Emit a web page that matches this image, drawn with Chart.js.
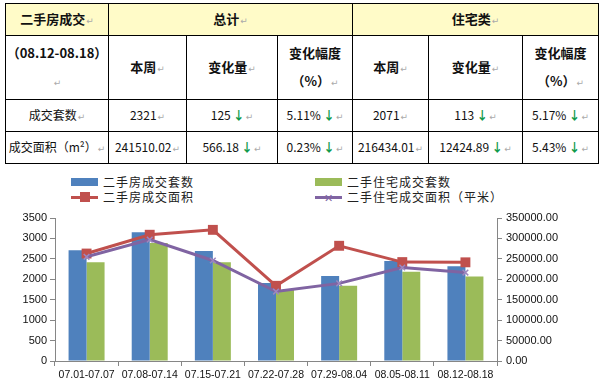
<!DOCTYPE html>
<html><head><meta charset="utf-8">
<script src="https://cdn.jsdelivr.net/npm/chart.js@4"></script>
<style>
html,body{margin:0;padding:0;background:#fff;}
body{width:601px;height:383px;position:relative;overflow:hidden;font-family:"Noto Sans CJK SC","DejaVu Sans",sans-serif;}
.cell{position:absolute;box-sizing:border-box;border-left:1px solid #000;border-top:1px solid #000;display:flex;flex-direction:column;align-items:center;justify-content:center;font-size:12px;color:#111;text-align:center;line-height:28px;}
.hdr{background:#FFFBC8;font-weight:bold;font-size:13px;}
.b{font-weight:bold;font-size:13px;}
.pm{color:#aaa;font-size:9px;font-weight:normal;margin-left:1px;}
.ar{color:#0f9a4a;font-weight:bold;margin-left:2px;}
#frame{position:absolute;box-sizing:border-box;border-right:1px solid #000;border-bottom:1px solid #000;pointer-events:none;}
.lg{position:absolute;font-size:12px;letter-spacing:1px;color:#222;line-height:14px;white-space:nowrap;}
.box{position:absolute;}
#cv{position:absolute;left:0;top:205px;}
</style></head>
<body>
<div id="tbl"></div>
<div class="box" style="left:71px;top:178px;width:27px;height:8px;background:#4F81BD"></div>
<div class="lg" style="left:103px;top:175px">二手房成交套数</div>
<div class="box" style="left:71px;top:196px;width:27px;height:3px;background:#C0504D"></div>
<div class="box" style="left:80px;top:192px;width:10px;height:10px;background:#C0504D"></div>
<div class="lg" style="left:103px;top:190px">二手房成交面积</div>
<div class="box" style="left:315px;top:178px;width:27px;height:8px;background:#9BBB59"></div>
<div class="lg" style="left:347px;top:175px">二手住宅成交套数</div>
<div class="box" style="left:315px;top:196px;width:27px;height:3px;background:#8064A2"></div>
<div class="lg" style="left:324px;top:190px;font-size:11px;color:#8064A2;letter-spacing:0">✕</div>
<div class="lg" style="left:347px;top:190px">二手住宅成交面积（平米）</div>
<canvas id="cv" width="601" height="178"></canvas>
<script>
// ---- table data ----
const tableTitle = '二手房成交';
const groupTotal = '总计';
const groupResidential = '住宅类';
const periodLabel = '（08.12-08.18）';
const subHeaders = ['本周','变化量','变化幅度|（%）'];
const rowLabels = ['成交套数','成交面积（m²）'];
const totalThisWeek = ['2321','241510.02'];
const totalChange = ['125','566.18'];
const totalPct = ['5.11%','0.23%'];
const resThisWeek = ['2071','216434.01'];
const resChange = ['113','12424.89'];
const resPct = ['5.17%','5.43%'];

// ---- chart data ----
const categories = ['07.01-07.07','07.08-07.14','07.15-07.21','07.22-07.28','07.29-08.04','08.05-08.11','08.12-08.18'];
const allUnits = [2710, 3150, 2690, 1910, 2080, 2446, 2321];
const resUnits = [2420, 2890, 2420, 1740, 1840, 2184, 2071];
const allArea = [263000, 309000, 321000, 184000, 282000, 242076.20, 241510.02];
const resArea = [255000, 297000, 246000, 170000, 190000, 228858.90, 216434.01];
const leftTicks = [0,500,1000,1500,2000,2500,3000,3500];
const rightTicks = [0,50000,100000,150000,200000,250000,300000,350000];

// ---- build table ----
const colX = [5,108,186,277,352,428,522,598];
const rowY = [3,35,99,131,163];
const tbl = document.getElementById('tbl');
function cell(c0,c1,r,html,cls){
  const d=document.createElement('div');
  d.className='cell '+(cls||'');
  d.style.left=colX[c0]+'px'; d.style.width=(colX[c1]-colX[c0])+'px';
  d.style.top=rowY[r]+'px'; d.style.height=(rowY[r+1]-rowY[r])+'px';
  d.innerHTML=html; tbl.appendChild(d);
}
const pm='<span class="pm">↵</span>';
const ar='<span class="ar">↓</span>';
cell(0,1,0,'<div>'+tableTitle+pm+'</div>','hdr');
cell(1,4,0,'<div>'+groupTotal+pm+'</div>','hdr');
cell(4,7,0,'<div>'+groupResidential+pm+'</div>','hdr');
cell(0,1,1,'<div>'+periodLabel+pm+'</div>','b');
[0,3].forEach(off=>{
  subHeaders.forEach((h,i)=>{
    const parts=h.split('|');
    const html=parts.map((p,j)=>'<div>'+p+(j===parts.length-1?pm:'')+'</div>').join('');
    cell(1+off+i,2+off+i,1,html,'b');
  });
});
rowLabels.forEach((lab,i)=>{
  const r=2+i;
  cell(0,1,r,'<div>'+lab+pm+'</div>');
  cell(1,2,r,'<div>'+totalThisWeek[i]+pm+'</div>');
  cell(2,3,r,'<div>'+totalChange[i]+ar+pm+'</div>');
  cell(3,4,r,'<div>'+totalPct[i]+ar+pm+'</div>');
  cell(4,5,r,'<div>'+resThisWeek[i]+pm+'</div>');
  cell(5,6,r,'<div>'+resChange[i]+ar+pm+'</div>');
  cell(6,7,r,'<div>'+resPct[i]+ar+pm+'</div>');
});
const fr=document.createElement('div'); fr.id='frame';
fr.style.left=colX[0]+'px'; fr.style.top=rowY[0]+'px';
fr.style.width=(colX[7]-colX[0]+1)+'px'; fr.style.height=(rowY[4]-rowY[0]+1)+'px';
tbl.appendChild(fr);

// ---- chart ----
const axisColor='#868686';
const tickFont={family:'"Liberation Sans", Arial, sans-serif', size:11};
new Chart(document.getElementById('cv'),{
  data:{
    labels:categories,
    datasets:[
      {type:'line',label:'二手住宅成交面积（平米）',data:resArea,yAxisID:'y1',borderColor:'#8064A2',backgroundColor:'#8064A2',borderWidth:3,pointStyle:'crossRot',pointRadius:4,pointBorderWidth:1.5,pointBorderColor:'#9d87bf',tension:0,order:0},
      {type:'line',label:'二手房成交面积',data:allArea,yAxisID:'y1',borderColor:'#C0504D',backgroundColor:'#C0504D',borderWidth:3,pointStyle:'rect',pointRadius:7,pointBorderWidth:0,tension:0,order:1},
      {type:'bar',label:'二手房成交套数',data:allUnits,yAxisID:'y',backgroundColor:'#4F81BD',categoryPercentage:0.57,barPercentage:1,order:2},
      {type:'bar',label:'二手住宅成交套数',data:resUnits,yAxisID:'y',backgroundColor:'#9BBB59',categoryPercentage:0.57,barPercentage:1,order:3}
    ]
  },
  options:{
    responsive:false,animation:false,
    layout:{padding:{top:13,left:0,right:0,bottom:0}},
    plugins:{legend:{display:false},tooltip:{enabled:false}},
    scales:{
      x:{
        grid:{display:true,drawOnChartArea:false,drawTicks:true,tickLength:5,color:axisColor,offset:true},
        border:{color:axisColor},
        ticks:{color:'#111',font:{family:tickFont.family,size:10.5},padding:3,maxRotation:0,autoSkip:false},
        afterFit:s=>{s.height=22;}
      },
      y:{
        position:'left',min:0,max:3500,
        afterBuildTicks:s=>{s.ticks=leftTicks.map(v=>({value:v}));},
        grid:{drawOnChartArea:false,tickLength:5,color:axisColor},
        border:{color:axisColor},
        ticks:{color:'#111',font:tickFont,padding:3,callback:v=>String(v)},
        afterFit:s=>{s.width=55;}
      },
      y1:{
        position:'right',min:0,max:350000,
        afterBuildTicks:s=>{s.ticks=rightTicks.map(v=>({value:v}));},
        grid:{drawOnChartArea:false,tickLength:5,color:axisColor},
        border:{color:axisColor},
        ticks:{color:'#111',font:tickFont,padding:4,callback:v=>Number(v).toFixed(2)},
        afterFit:s=>{s.width=104;}
      }
    }
  }
});
</script>
</body></html>
